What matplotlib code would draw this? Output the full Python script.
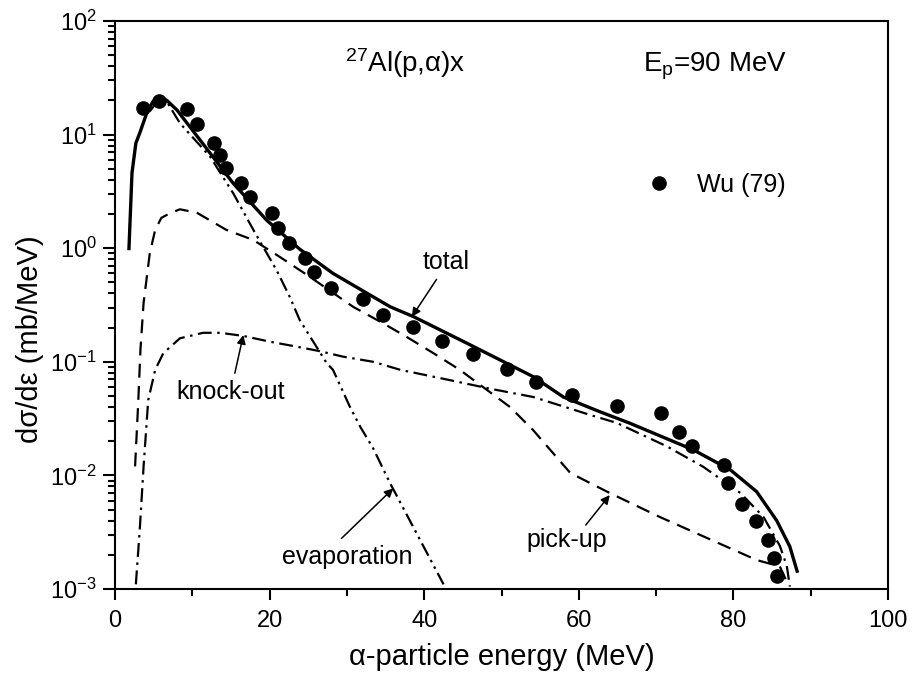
import matplotlib
matplotlib.use('Agg')
import matplotlib.pyplot as plt

plt.rcParams['font.family'] = ['Liberation Sans', 'DejaVu Sans']
plt.rcParams['mathtext.fontset'] = 'custom'
plt.rcParams['mathtext.rm'] = 'Liberation Sans'
plt.rcParams['mathtext.default'] = 'regular'
plt.rcParams['lines.scale_dashes'] = False

# experimental data, Wu (79)
exp_x = [3.6, 5.7, 9.35, 10.6, 12.85, 13.6, 14.35, 16.3, 17.45, 20.3, 21.1, 22.55,
         24.6, 25.8, 28.0, 32.1, 34.7, 38.5, 42.3, 46.35, 50.75, 54.4, 59.1, 64.9,
         70.6, 73.0, 74.7, 78.8, 79.3, 81.1, 82.9, 84.5, 85.3, 85.7]
exp_y = [17.3, 19.8, 16.8, 12.3, 8.5, 6.6, 5.1, 3.77, 2.84, 2.05, 1.51, 1.10,
         0.82, 0.62, 0.45, 0.355, 0.258, 0.204, 0.152, 0.117, 0.086, 0.066, 0.0507, 0.0408,
         0.0352, 0.0241, 0.0182, 0.0123, 0.0085, 0.0056, 0.0040, 0.0027, 0.00186, 0.0013]

# calculated curves
total_x = [1.8, 2.2, 2.7, 3.2, 4.1, 4.9, 5.7, 6.7, 8.0, 11.0, 15.3, 19.6, 23.9, 28.2,
           35.6, 38.6, 45.5, 54.1, 58.0, 62.7, 66.6, 74.8, 79.6, 83.0, 85.6, 87.3, 88.3]
total_y = [0.96, 4.6, 8.4, 10.3, 15.4, 19.5, 21.6, 20.0, 16.5, 8.96, 3.72, 1.77, 0.98, 0.6,
           0.305, 0.25, 0.146, 0.074, 0.049, 0.0364, 0.0288, 0.0168, 0.0112, 0.0072, 0.0040, 0.00236, 0.00139]

evap_x = [4.5, 5.7, 6.7, 8.4, 12.3, 15.3, 17.9, 20.9, 22.6, 23.9, 27.4, 28.2, 30.4,
          31.7, 33.4, 35.6, 38.5, 42.5]
evap_y = [16.0, 20.5, 19.5, 12.6, 6.4, 3.04, 1.45, 0.64, 0.374, 0.233, 0.097, 0.085, 0.040,
          0.027, 0.0173, 0.0085, 0.0036, 0.0011]

pick_x = [2.6, 3.0, 3.3, 3.7, 4.5, 5.2, 6.0, 7.1, 8.4, 10.6, 14.4, 17.9, 21.3, 25.2, 30.8,
          34.7, 37.7, 41.2, 44.6, 47.6, 51.1, 54.1, 56.3, 58.9, 64.0, 70.5, 79.1, 83.0, 86.0, 86.8]
pick_y = [0.012, 0.043, 0.13, 0.33, 0.90, 1.45, 1.85, 2.03, 2.2, 2.05, 1.45, 1.18, 0.84, 0.56, 0.305,
          0.218, 0.166, 0.119, 0.085, 0.060, 0.040, 0.025, 0.0168, 0.0105, 0.0070, 0.0043, 0.00236, 0.0018, 0.00158, 0.0012]

knock_x = [2.7, 3.2, 3.7, 4.3, 5.2, 6.25, 8.4, 11.4, 13.6, 16.6, 20.1, 23.5, 26.5, 29.5, 33.4,
           36.9, 43.3, 48.5, 54.1, 56.3, 61.5, 64.9, 71.4, 76.1, 80.9, 83.9, 86.0, 86.9, 87.3]
knock_y = [0.0011, 0.0033, 0.012, 0.046, 0.085, 0.119, 0.161, 0.180, 0.180, 0.169, 0.150, 0.136, 0.124, 0.111, 0.100,
           0.085, 0.069, 0.058, 0.049, 0.044, 0.034, 0.029, 0.018, 0.0119, 0.0070, 0.0043, 0.0024, 0.0016, 0.00105]

fig = plt.figure(figsize=(9.14, 6.83), dpi=100)
ax = fig.add_axes([0.1258, 0.1376, 0.8458, 0.8317])

ax.plot(evap_x, evap_y, color='k', lw=1.6, dashes=(10, 3.5, 1.8, 3.5, 1.8, 3.5))
ax.plot(pick_x, pick_y, color='k', lw=1.6, dashes=(10, 6))
ax.plot(knock_x, knock_y, color='k', lw=1.6, dashes=(10, 4, 1.8, 4))
ax.plot(total_x, total_y, color='k', lw=2.4, solid_capstyle='butt')
ax.plot(exp_x, exp_y, 'o', color='k', ms=9.5, label='Wu (79)')

ax.set_yscale('log')
ax.set_xlim(0, 100)
ax.set_ylim(1e-3, 1e2)
ax.set_xticks([0, 20, 40, 60, 80, 100])
ax.set_xticks([10, 30, 50, 70, 90], minor=True)

for s in ax.spines.values():
    s.set_linewidth(1.5)
ax.tick_params(which='both', direction='out', top=False, right=False, width=1.5, labelsize=17)
ax.tick_params(axis='x', which='major', length=8, pad=7)
ax.tick_params(axis='x', which='minor', length=5)
ax.tick_params(axis='y', which='major', length=9, pad=4)
ax.tick_params(axis='y', which='minor', length=5)

ax.set_xlabel('α-particle energy (MeV)', fontsize=21, labelpad=8)
ax.set_ylabel('dσ/dε (mb/MeV)', fontsize=21, labelpad=10)
ax.yaxis.set_label_coords(-0.092, 0.44)

ax.text(0.2975, 0.911, r'$^{27}$Al(p,α)x', transform=ax.transAxes, fontsize=20, ha='left', va='baseline')
ax.text(0.683, 0.911, r'E$_{p}$=90 MeV', transform=ax.transAxes, fontsize=20, ha='left', va='baseline')

ax.legend(loc='center left', bbox_to_anchor=(0.688, 0.711), frameon=False, fontsize=18,
          numpoints=1, handlelength=1.0, handletextpad=1.0, borderpad=0, borderaxespad=0)

arrow = dict(arrowstyle='-|>', color='k', lw=1.1, mutation_scale=13, shrinkA=0, shrinkB=0)
ax.annotate('', xy=(38.4, 0.249), xytext=(41.6, 0.532), arrowprops=arrow)
ax.text(42.9, 0.76, 'total', fontsize=18, ha='center', va='center')
ax.annotate('', xy=(16.6, 0.172), xytext=(15.5, 0.0793), arrowprops=arrow)
ax.text(14.9, 0.0546, 'knock-out', fontsize=18, ha='center', va='center')
ax.annotate('', xy=(36.0, 0.00769), xytext=(29.3, 0.00279), arrowprops=arrow)
ax.text(30.0, 0.00192, 'evaporation', fontsize=18, ha='center', va='center')
ax.annotate('', xy=(64.0, 0.00671), xytext=(60.9, 0.00366), arrowprops=arrow)
ax.text(58.4, 0.0027, 'pick-up', fontsize=18, ha='center', va='center')

fig.savefig('out.png', dpi=100)
